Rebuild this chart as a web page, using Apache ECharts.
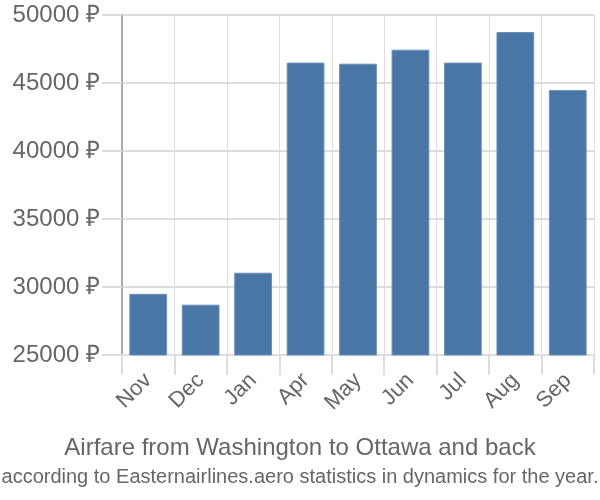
<!DOCTYPE html>
<html>
<head>
<meta charset="utf-8">
<script src="https://cdn.jsdelivr.net/npm/echarts@6/dist/echarts.min.js"></script>
<style>
  html, body { margin: 0; padding: 0; background: #fff; }
  #chart { width: 600px; height: 500px; }
</style>
</head>
<body>
<div id="chart"></div>
<script>
const months = ['Nov', 'Dec', 'Jan', 'Apr', 'May', 'Jun', 'Jul', 'Aug', 'Sep'];
const prices = [29500, 28700, 31050, 46500, 46420, 47450, 46500, 48750, 44480];

const chart = echarts.init(document.getElementById('chart'));
const font = 'Liberation Sans, Arial, sans-serif';

chart.setOption({
  animation: false,
  title: [
    {
      text: 'Airfare from Washington to Ottawa and back',
      left: 'center',
      top: 431,
      textStyle: { color: '#666', fontSize: 24, fontWeight: 'normal', fontFamily: font }
    },
    {
      text: 'according to Easternairlines.aero statistics in dynamics for the year.',
      left: 'center',
      top: 462,
      textStyle: { color: '#666', fontSize: 20, fontWeight: 'normal', fontFamily: font }
    }
  ],
  grid: { left: 122, right: 6, top: 15, bottom: 145 },
  xAxis: {
    type: 'category',
    data: months,
    axisLine: { lineStyle: { color: '#ddd', width: 2 } },
    axisTick: { show: true, length: 20, interval: 0, lineStyle: { color: '#ddd', width: 2 } },
    splitLine: { show: true, interval: 0, lineStyle: { color: '#ddd', width: 1 } },
    axisLabel: { rotate: 45, margin: 22, color: '#666', fontSize: 22, fontFamily: font, interval: 0 }
  },
  yAxis: {
    type: 'value',
    min: 25000,
    max: 50000,
    interval: 5000,
    axisLine: { show: true, lineStyle: { color: '#aaa', width: 2 } },
    axisTick: { show: true, length: 20, lineStyle: { color: '#ddd', width: 2 } },
    splitLine: { lineStyle: { color: '#ddd', width: 2 } },
    axisLabel: {
      margin: 22,
      color: '#666',
      fontSize: 24,
      fontFamily: font,
      formatter: v => v + ' ₽'
    }
  },
  series: [{
    type: 'bar',
    data: prices,
    barWidth: '72%',
    itemStyle: { color: '#4a76a6', borderColor: '#6d90b8', borderWidth: 1 }
  }]
});
</script>
</body>
</html>
